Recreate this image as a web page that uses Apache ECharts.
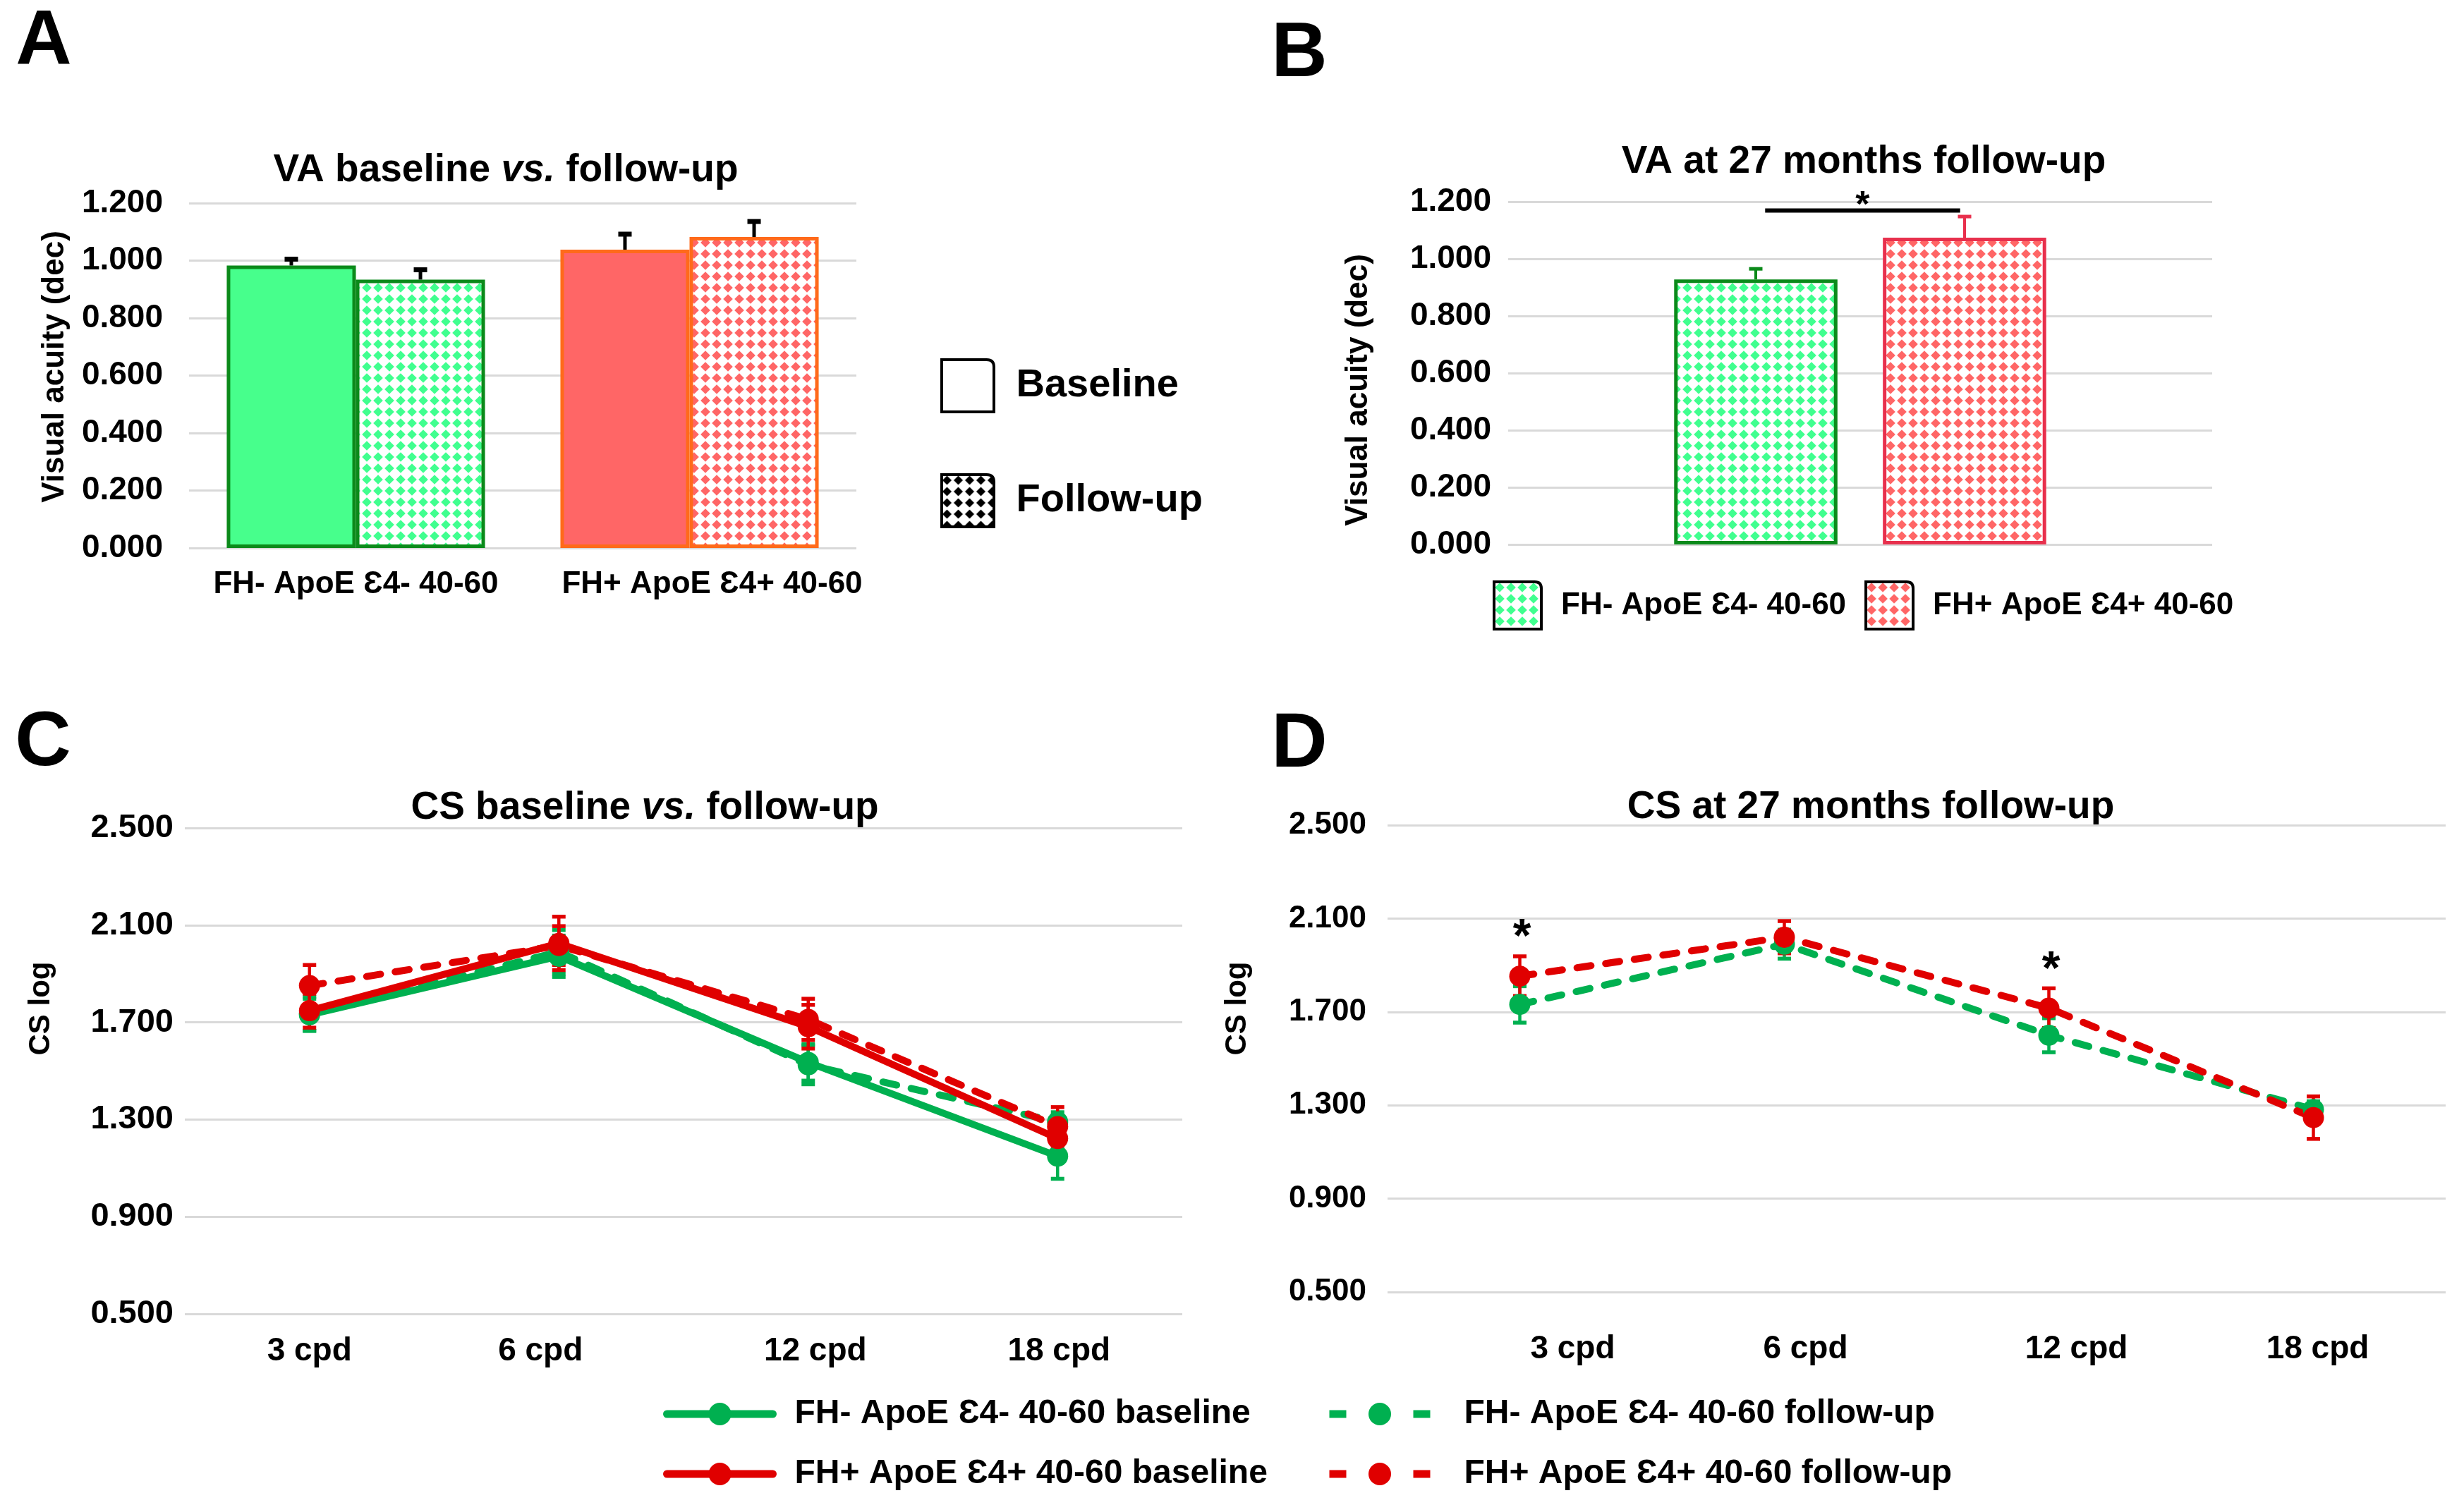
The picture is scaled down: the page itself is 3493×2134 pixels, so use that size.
<!DOCTYPE html>
<html><head><meta charset="utf-8">
<script src="https://cdn.jsdelivr.net/npm/echarts@6/dist/echarts.min.js"></script>
<style>html,body{margin:0;padding:0;background:#fff}#c{width:3493px;height:2134px}</style>
</head><body><div id="c"></div>
<script>
// ---------- DATA ----------
const vaGroups = ['FH- ApoE Ɛ4- 40-60', 'FH+ ApoE Ɛ4+ 40-60'];
const vaBaseline = [0.983, 1.038];
const vaBaselineErr = [0.022, 0.054];
const vaFollowup = [0.934, 1.082];
const vaFollowupErr = [0.034, 0.054];

const va27Names = ['FH- ApoE Ɛ4- 40-60', 'FH+ ApoE Ɛ4+ 40-60'];
const va27Neg = [0.928];
const va27NegErr = [0.037];
const va27Pos = [1.074];
const va27PosErr = [0.074];
const va27SigLevel = [1.169];

const freqs = ['3 cpd', '6 cpd', '12 cpd', '18 cpd'];
const csNegBase = [1.731, 1.972, 1.535, 1.149];
const csNegBaseErr = [0.066, 0.085, 0.075, 0.093];
const csPosBase = [1.748, 2.025, 1.682, 1.222];
const csPosBaseErr = [0.070, 0.110, 0.090, 0.080];
const csNegFollowC = [1.735, 1.990, 1.525, 1.290];
const csNegFollowCErr = [0.070, 0.090, 0.080, 0.040];
const csPosFollowC = [1.851, 2.016, 1.712, 1.271];
const csPosFollowCErr = [0.085, 0.080, 0.085, 0.080];
const csNegFollowD = [1.732, 1.990, 1.600, 1.282];
const csNegFollowDErr = [0.078, 0.062, 0.073, 0.035];
const csPosFollowD = [1.853, 2.020, 1.716, 1.247];
const csPosFollowDErr = [0.085, 0.069, 0.085, 0.091];
const csSigD = [true, false, true, false];

const nameNegBase = 'FH- ApoE Ɛ4- 40-60 baseline';
const namePosBase = 'FH+ ApoE Ɛ4+ 40-60 baseline';
const nameNegFU = 'FH- ApoE Ɛ4- 40-60 follow-up';
const namePosFU = 'FH+ ApoE Ɛ4+ 40-60 follow-up';

// ---------- STYLE ----------
const FONT = "'Liberation Sans', Arial, Helvetica, sans-serif";
const GREEN_FILL = '#47FF8C', GREEN_BORDER = '#0B8A1A';
const RED_FILL = '#FF6666', ORANGE_BORDER = '#FF6A1A', CRIMSON_BORDER = '#E8304D';
const LINE_GREEN = '#00B050', LINE_RED = '#E00000';
const GRID_COLOR = '#d9d9d9';

function diamondPattern(color, size, r) {
  const c = document.createElement('canvas');
  c.width = size; c.height = size;
  const g = c.getContext('2d');
  g.fillStyle = '#fff'; g.fillRect(0, 0, size, size);
  g.fillStyle = color;
  const m = size / 2;
  g.beginPath();
  g.moveTo(m, m - r); g.lineTo(m + r, m); g.lineTo(m, m + r); g.lineTo(m - r, m);
  g.closePath(); g.fill();
  return { image: c, repeat: 'repeat' };
}
const patGreen = diamondPattern('#40FF8F', 16, 6.8);
const patRed = diamondPattern('#FF6666', 16, 6.8);
const patBlack = diamondPattern('#000000', 16, 6.5);
const FOLD_ICON = 'path://M0,0 L86,0 Q100,0 100,14 L100,100 L0,100 Z';

function yAxisCfg(gi, min, max, interval, fs, margin) {
  return {
    type: 'value', gridIndex: gi, min, max, interval,
    axisLine: { show: false }, axisTick: { show: false },
    splitLine: { lineStyle: { color: GRID_COLOR, width: 3 } },
    axisLabel: { fontSize: fs, fontWeight: 'bold', fontFamily: FONT, color: '#000', margin,
      formatter: v => v.toFixed(3) }
  };
}
function xAxisCfg(gi, data, fs, margin, show, pads) {
  const lab = { show: show, interval: 0, fontSize: fs, fontWeight: 'bold', fontFamily: FONT, color: '#000', margin };
  if (pads) {
    lab.formatter = (v, i) => '{p' + i + '|' + v + '}';
    lab.rich = {};
    pads.forEach((p, i) => {
      lab.rich['p' + i] = { fontSize: fs, fontWeight: 'bold', fontFamily: FONT, color: '#000',
        padding: p >= 0 ? [0, 0, 0, p] : [0, -p, 0, 0] };
    });
  }
  return {
    type: 'category', gridIndex: gi, data,
    axisLine: { show: false }, axisTick: { show: false }, splitLine: { show: false },
    axisLabel: lab
  };
}

function errSeries(xi, yi, means, errs, color, o) {
  return {
    type: 'custom', xAxisIndex: xi, yAxisIndex: yi, z: o.z || 5, silent: true,
    data: means.map((m, i) => [i, m, errs[i]]),
    renderItem(params, api) {
      const bw = api.size([1, 0])[0];
      const pm = api.coord([api.value(0), api.value(1)]);
      const x0 = pm[0] + (o.offset || 0) * bw;
      const yT = api.coord([api.value(0), api.value(1) + api.value(2)])[1];
      const yB = o.upOnly ? pm[1] : api.coord([api.value(0), api.value(1) - api.value(2)])[1];
      const cw = o.cap / 2;
      const st = { stroke: color, lineWidth: o.lw };
      const cst = { stroke: color, lineWidth: o.capLw || o.lw };
      const ch = [
        { type: 'line', shape: { x1: x0, y1: yT, x2: x0, y2: yB }, style: st },
        { type: 'line', shape: { x1: x0 - cw, y1: yT, x2: x0 + cw, y2: yT }, style: cst }
      ];
      if (!o.upOnly) ch.push({ type: 'line', shape: { x1: x0 - cw, y1: yB, x2: x0 + cw, y2: yB }, style: cst });
      return { type: 'group', children: ch };
    }
  };
}

const series = [];
// ---- Panel A ----
const aFill = [GREEN_FILL, RED_FILL], aBorder = [GREEN_BORDER, ORANGE_BORDER], aPat = [patGreen, patRed];
series.push({
  type: 'bar', name: 'Baseline', xAxisIndex: 0, yAxisIndex: 0, barWidth: '38.7%', barGap: '0%',
  data: vaBaseline.map((v, i) => ({ value: v, itemStyle: { color: aFill[i], borderColor: aBorder[i], borderWidth: 5 } }))
});
series.push({
  type: 'bar', name: 'Follow-up', xAxisIndex: 0, yAxisIndex: 0, barWidth: '38.7%', barGap: '0%',
  data: vaFollowup.map((v, i) => ({ value: v, itemStyle: { color: aPat[i], borderColor: aBorder[i], borderWidth: 5 } }))
});
series.push(errSeries(0, 0, vaBaseline, vaBaselineErr, '#000', { offset: -0.1935, upOnly: true, cap: 19, lw: 5, capLw: 7 }));
series.push(errSeries(0, 0, vaFollowup, vaFollowupErr, '#000', { offset: 0.1935, upOnly: true, cap: 19, lw: 5, capLw: 7 }));

// ---- Panel B ----
series.push({
  type: 'bar', name: va27Names[0], xAxisIndex: 1, yAxisIndex: 1, barWidth: '23.2%', barGap: '27.8%',
  itemStyle: { color: patGreen, borderColor: GREEN_BORDER, borderWidth: 5 }, data: va27Neg
});
series.push({
  type: 'bar', name: va27Names[1], xAxisIndex: 1, yAxisIndex: 1, barWidth: '23.2%', barGap: '27.8%',
  itemStyle: { color: patRed, borderColor: CRIMSON_BORDER, borderWidth: 5 }, data: va27Pos
});
series.push(errSeries(1, 1, va27Neg, va27NegErr, GREEN_BORDER, { offset: -0.1483, upOnly: true, cap: 19, lw: 4, capLw: 5 }));
series.push(errSeries(1, 1, va27Pos, va27PosErr, CRIMSON_BORDER, { offset: 0.1483, upOnly: true, cap: 19, lw: 4, capLw: 5 }));
series.push({
  type: 'custom', xAxisIndex: 1, yAxisIndex: 1, z: 6, silent: true,
  data: va27SigLevel.map(v => [0, v]),
  renderItem(params, api) {
    const bw = api.size([1, 0])[0];
    const p = api.coord([api.value(0), api.value(1)]);
    const x1 = p[0] - 0.135 * bw, x2 = p[0] + 0.142 * bw;
    return { type: 'group', children: [
      { type: 'line', shape: { x1, y1: p[1], x2, y2: p[1] }, style: { stroke: '#000', lineWidth: 6 } },
      { type: 'text', style: { x: (x1 + x2) / 2, y: p[1] - 6, text: '*', fontSize: 52, fontWeight: 'bold',
        fontFamily: FONT, fill: '#000', textAlign: 'center', textVerticalAlign: 'middle' } }
    ] };
  }
});

// ---- Panel C & D ----
function lineSeries(name, xi, data, color, dashed) {
  return {
    type: 'line', name, xAxisIndex: xi, yAxisIndex: xi, data, z: 4,
    symbol: 'circle', symbolSize: 30, showSymbol: true,
    itemStyle: { color },
    lineStyle: { color, width: 10, type: dashed ? [20, 21] : 'solid', cap: 'round' }
  };
}
const eC = { cap: 19, lw: 4.5, capLw: 5.5, z: 3 };
series.push(errSeries(2, 2, csNegFollowC, csNegFollowCErr, LINE_GREEN, eC));
series.push(errSeries(2, 2, csNegBase, csNegBaseErr, LINE_GREEN, eC));
series.push(errSeries(2, 2, csPosFollowC, csPosFollowCErr, LINE_RED, eC));
series.push(errSeries(2, 2, csPosBase, csPosBaseErr, LINE_RED, eC));
series.push(lineSeries(nameNegFU, 2, csNegFollowC, LINE_GREEN, true));
series.push(lineSeries(nameNegBase, 2, csNegBase, LINE_GREEN, false));
series.push(lineSeries(namePosFU, 2, csPosFollowC, LINE_RED, true));
series.push(lineSeries(namePosBase, 2, csPosBase, LINE_RED, false));

series.push(errSeries(3, 3, csNegFollowD, csNegFollowDErr, LINE_GREEN, eC));
series.push(errSeries(3, 3, csPosFollowD, csPosFollowDErr, LINE_RED, eC));
series.push(lineSeries(nameNegFU, 3, csNegFollowD, LINE_GREEN, true));
series.push(lineSeries(namePosFU, 3, csPosFollowD, LINE_RED, true));
series.push({
  type: 'custom', xAxisIndex: 3, yAxisIndex: 3, z: 6, silent: true,
  data: csPosFollowD.map((m, i) => [i, m, csPosFollowDErr[i], csSigD[i] ? 1 : 0]),
  renderItem(params, api) {
    if (!api.value(3)) return null;
    const p = api.coord([api.value(0), api.value(1) + api.value(2)]);
    return { type: 'text', style: { x: p[0] + 3, y: p[1] + 8, text: '*', fontSize: 66, fontWeight: 'bold',
      fontFamily: FONT, fill: '#000', textAlign: 'center', textVerticalAlign: 'bottom' } };
  }
});

// ---------- TEXT ----------
function txt(x, y, text, fs, extra) {
  return Object.assign({ type: 'text', x, y, silent: true,
    style: { text, fontSize: fs, fontWeight: 'bold', fontFamily: FONT, fill: '#000', textAlign: 'center', textVerticalAlign: 'middle' } }, extra || {});
}
function richTitle(x, y, a, b, fs) {
  return { type: 'text', x, y, silent: true, style: {
    text: '{n|' + a + '}{i|vs.}{n|' + b + '}', fontSize: fs, fontWeight: 'bold', fontFamily: FONT, fill: '#000',
    textAlign: 'center', textVerticalAlign: 'middle',
    rich: { n: { fontSize: fs, fontWeight: 'bold', fontFamily: FONT, fill: '#000' },
            i: { fontSize: fs, fontWeight: 'bold', fontStyle: 'italic', fontFamily: FONT, fill: '#000' } } } };
}
const graphics = [
  txt(62, 60, 'A', 110), txt(1842, 78, 'B', 110), txt(61, 1055, 'C', 110), txt(1842, 1057, 'D', 110),
  richTitle(717, 242, 'VA baseline ', ' follow-up', 55),
  txt(2642, 230, 'VA at 27 months follow-up', 55),
  richTitle(914, 1146, 'CS baseline ', ' follow-up', 55),
  txt(2652, 1145, 'CS at 27 months follow-up', 55),
  txt(78, 520, 'Visual acuity (dec)', 44, { rotation: Math.PI / 2 }),
  txt(1926, 553, 'Visual acuity (dec)', 44, { rotation: Math.PI / 2 }),
  txt(58, 1430, 'CS log', 42, { rotation: Math.PI / 2 }),
  txt(1754, 1430, 'CS log', 42, { rotation: Math.PI / 2 })
];

const legText = (fs, pad) => ({ fontSize: fs, fontWeight: 'bold', fontFamily: FONT, color: '#000', padding: [0, 0, 0, pad] });

const option = {
  animation: false,
  backgroundColor: '#fff',
  grid: [
    { left: 268, top: 288, width: 946, height: 489 },
    { left: 2138, top: 286, width: 998, height: 486 },
    { left: 262, top: 1174, width: 1414, height: 689 },
    { left: 1967, top: 1170, width: 1500, height: 662 }
  ],
  xAxis: [
    xAxisCfg(0, vaGroups, 44, 30, true, [0, 64]),
    xAxisCfg(1, ['VA'], 44, 30, false),
    xAxisCfg(2, freqs, 46, 30, true, [0, -52, 20, 4]),
    xAxisCfg(3, freqs, 46, 58, true, [150, 60, 78, 12])
  ],
  yAxis: [
    yAxisCfg(0, 0, 1.2, 0.2, 46, 37),
    yAxisCfg(1, 0, 1.2, 0.2, 46, 24),
    yAxisCfg(2, 0.5, 2.5, 0.4, 47, 16),
    yAxisCfg(3, 0.5, 2.5, 0.4, 44, 30)
  ],
  legend: [
    { orient: 'vertical', left: 1328, top: 503, itemWidth: 75, itemHeight: 74, itemGap: 85, selectedMode: false,
      textStyle: legText(56, 26),
      data: [
        { name: 'Baseline', icon: FOLD_ICON, itemStyle: { color: '#fff', borderColor: '#000', borderWidth: 4 } },
        { name: 'Follow-up', icon: FOLD_ICON, itemStyle: { color: patBlack, borderColor: '#000', borderWidth: 4 } }
      ] },
    { orient: 'horizontal', left: 2111, top: 818, itemWidth: 67, itemHeight: 67, itemGap: 26, selectedMode: false,
      textStyle: legText(44, 23),
      data: [
        { name: va27Names[0], icon: FOLD_ICON, itemStyle: { color: patGreen, borderColor: '#000', borderWidth: 4 } },
        { name: va27Names[1], icon: FOLD_ICON, itemStyle: { color: patRed, borderColor: '#000', borderWidth: 4 } }
      ] },
    { orient: 'vertical', left: 935, top: 1976, itemWidth: 150, itemHeight: 40, itemGap: 37, selectedMode: false,
      textStyle: legText(48, 26),
      data: [
        { name: nameNegBase, lineStyle: { width: 11, type: 'solid' } },
        { name: namePosBase, lineStyle: { width: 11, type: 'solid' } }
      ] },
    { orient: 'vertical', left: 1874, top: 1976, itemWidth: 143, itemHeight: 40, itemGap: 37, selectedMode: false,
      textStyle: legText(48, 43),
      data: [
        { name: nameNegFU, lineStyle: { width: 11, type: [24, 95], cap: 'butt' } },
        { name: namePosFU, lineStyle: { width: 11, type: [24, 95], cap: 'butt' } }
      ] }
  ],
  series,
  graphic: graphics
};

const chart = echarts.init(document.getElementById('c'), null, { renderer: 'canvas', width: 3493, height: 2134 });
chart.setOption(option);
</script>
</body></html>
